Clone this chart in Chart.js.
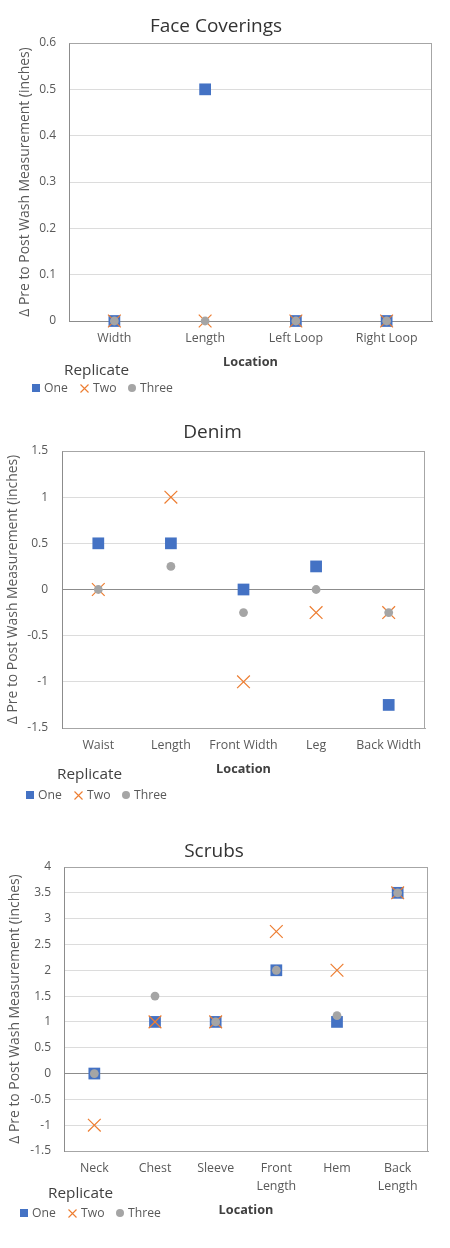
<!DOCTYPE html>
<html><head><meta charset="utf-8">
<script src="https://cdn.jsdelivr.net/npm/chart.js@4"></script>
<style>
html,body{margin:0;padding:0;background:#fff}
body{width:450px;height:1248px;position:relative;overflow:hidden;font-family:'Open Sans',sans-serif}
.wrap{position:absolute;left:0;width:450px}
.lt{position:absolute;font-size:15.3px;line-height:20px;color:#404040;white-space:nowrap}
.li{position:absolute;font-size:12.2px;line-height:16px;color:#595959;white-space:nowrap;display:flex;align-items:center}
.ic{width:8px;height:8px;margin-right:4px;flex:none}
</style>
</head><body>
<div class="wrap" id="w1" style="top:0;height:400px"><canvas id="c1"></canvas></div>
<div class="wrap" id="w2" style="top:405px;height:410px"><canvas id="c2"></canvas></div>
<div class="wrap" id="w3" style="top:825px;height:423px"><canvas id="c3"></canvas></div>
<script>
// ---- data ----
const seriesNames = ['One', 'Two', 'Three'];

const fcCategories = ['Width', 'Length', 'Left Loop', 'Right Loop'];
const fcOne   = [0, 0.5, 0, 0];
const fcTwo   = [0, 0, 0, 0];
const fcThree = [0, 0, 0, 0];
const fcYTicks = [0, 0.6, 0.1]; // min, max, step

const denimCategories = ['Waist', 'Length', 'Front Width', 'Leg', 'Back Width'];
const denimOne   = [0.5, 0.5, 0, 0.25, -1.25];
const denimTwo   = [0, 1, -1, -0.25, -0.25];
const denimThree = [0, 0.25, -0.25, 0, -0.25];
const denimYTicks = [-1.5, 1.5, 0.5];

const scrubsCategories = ['Neck', 'Chest', 'Sleeve', ['Front', 'Length'], 'Hem', ['Back', 'Length']];
const scrubsOne   = [0, 1, 1, 2, 1, 3.5];
const scrubsTwo   = [-1, 1, 1, 2.75, 2, 3.5];
const scrubsThree = [0, 1.5, 1, 2, 1.12, 3.5];
const scrubsYTicks = [-1.5, 4, 0.5];

const yAxisTitle = 'Δ Pre to Post Wash Measurement (inches)';
const xAxisTitle = 'Location';
const legendTitle = 'Replicate';

// ---- styles ----
const BLUE = '#4472C4', ORANGE = '#ED7D31', GRAY = '#A5A5A5';
const FONT = "'Open Sans', sans-serif";

const framePlugin = {
  id: 'frame',
  beforeDatasetsDraw(chart) {
    const {ctx, chartArea: a} = chart;
    ctx.save();
    ctx.strokeStyle = '#a6a6a6';
    ctx.lineWidth = 1;
    const l = Math.round(a.left) + 0.5, t = Math.round(a.top) + 0.5, r = Math.round(a.right) - 0.5;
    ctx.beginPath();
    ctx.moveTo(l, t); ctx.lineTo(r, t);
    ctx.moveTo(r, t); ctx.lineTo(r, Math.round(a.bottom));
    ctx.stroke();
    ctx.restore();
  }
};

function makeChart(id, cfg) {
  const datasets = [
    {label: seriesNames[0], data: cfg.one, pointStyle: 'rect', pointRadius: 8.3,
     pointBackgroundColor: BLUE, pointBorderColor: BLUE, pointBorderWidth: 0, order: 3},
    {label: seriesNames[1], data: cfg.two, pointStyle: 'crossRot', pointRadius: 9,
     pointBackgroundColor: ORANGE, pointBorderColor: ORANGE, pointBorderWidth: 1.2, order: 2},
    {label: seriesNames[2], data: cfg.three, pointStyle: 'circle', pointRadius: 4.4,
     pointBackgroundColor: GRAY, pointBorderColor: GRAY, pointBorderWidth: 0, order: 1}
  ].map(d => Object.assign(d, {showLine: false, clip: false, pointHoverRadius: d.pointRadius}));

  const [ymin, ymax, ystep] = cfg.yTicks;
  return new Chart(document.getElementById(id), {
    type: 'line',
    data: {labels: cfg.categories, datasets},
    plugins: [framePlugin],
    options: {
      responsive: true,
      maintainAspectRatio: false,
      animation: false,
      events: [],
      layout: {padding: {left: 0, top: 0, bottom: 0, right: cfg.padRight}},
      plugins: {
        legend: {display: false},
        tooltip: {enabled: false},
        title: {
          display: true, text: cfg.title, color: '#333333',
          font: {family: FONT, size: 19, weight: 'normal'},
          padding: {top: cfg.titlePad[0], bottom: cfg.titlePad[1]}
        }
      },
      scales: {
        x: {
          type: 'category', offset: true,
          grid: {color: 'rgba(0,0,0,0)', drawTicks: false},
          border: {display: true, color: cfg.xBorder, width: 1},
          ticks: {color: '#595959', font: {family: FONT, size: 12.4, lineHeight: 1.43},
                  padding: 9.1, maxRotation: 0, autoSkip: false},
          title: {display: true, text: xAxisTitle, color: '#404040',
                  font: {family: FONT, size: 12.7, weight: 'bold'},
                  padding: {top: 0, bottom: cfg.xTitlePadBottom}},
          afterFit: s => { s.height = cfg.xHeight; }
        },
        y: {
          min: ymin, max: ymax,
          grid: {drawTicks: false, lineWidth: 1,
                 color: c => (c.tick && c.tick.value === 0) ? '#8c8c8c' :
                             (c.tick && Math.abs(c.tick.value - ymax) < 1e-9) ? '#a6a6a6' : '#dcdcdc'},
          border: {display: true, color: '#8c8c8c', width: 1},
          ticks: {stepSize: ystep, color: '#595959', font: {family: FONT, size: 12}, padding: cfg.yTickPad,
                  callback: v => String(Number(Number(v).toFixed(2)))},
          title: {display: true, text: yAxisTitle, color: '#595959',
                  font: {family: FONT, size: 13.9, weight: 'normal'},
                  padding: {top: cfg.yTitlePadTop, bottom: 0}},
          afterFit: s => { s.width = cfg.yWidth; }
        }
      }
    }
  });
}

function makeLegend(titlePos, itemsPos) {
  const body = document.body;
  const t = document.createElement('div');
  t.className = 'lt'; t.textContent = legendTitle;
  t.style.left = titlePos[0] + 'px'; t.style.top = (titlePos[1] - 10) + 'px';
  body.appendChild(t);
  const offsets = [0, 48, 96];
  seriesNames.forEach((name, i) => {
    const it = document.createElement('div');
    it.className = 'li';
    it.style.left = (itemsPos[0] + offsets[i]) + 'px';
    it.style.top = (itemsPos[1] - 8) + 'px';
    let icon;
    if (i === 0) {
      icon = document.createElement('div'); icon.className = 'ic'; icon.style.background = BLUE;
    } else if (i === 1) {
      icon = document.createElementNS('http://www.w3.org/2000/svg', 'svg');
      icon.setAttribute('width', '9'); icon.setAttribute('height', '9');
      icon.setAttribute('class', 'ic'); icon.style.width = '9px'; icon.style.height = '9px';
      icon.innerHTML = '<path d="M0.5 0.5L8.5 8.5M8.5 0.5L0.5 8.5" stroke="' + ORANGE + '" stroke-width="1.1"/>';
    } else {
      icon = document.createElement('div'); icon.className = 'ic';
      icon.style.background = GRAY; icon.style.borderRadius = '50%';
    }
    it.appendChild(icon);
    const sp = document.createElement('span'); sp.textContent = name;
    it.appendChild(sp);
    body.appendChild(it);
  });
}

makeChart('c1', {title: 'Face Coverings', categories: fcCategories, one: fcOne, two: fcTwo, three: fcThree,
  yTicks: fcYTicks, padRight: 18, titlePad: [14.8, 5.4], xBorder: '#8c8c8c',
  xHeight: 79, xTitlePadBottom: 30.4, yWidth: 69, yTickPad: 13, yTitlePadTop: 16.6});
makeChart('c2', {title: 'Denim', categories: denimCategories, one: denimOne, two: denimTwo, three: denimThree,
  yTicks: denimYTicks, padRight: 25, titlePad: [16.6, 6.6], xBorder: '#a6a6a6',
  xHeight: 87, xTitlePadBottom: 38.4, yWidth: 62, yTickPad: 14, yTitlePadTop: 4.6});
makeChart('c3', {title: 'Scrubs', categories: scrubsCategories, one: scrubsOne, two: scrubsTwo, three: scrubsThree,
  yTicks: scrubsYTicks, padRight: 22, titlePad: [15.6, 3.6], xBorder: '#a6a6a6',
  xHeight: 97, xTitlePadBottom: 30.4, yWidth: 64, yTickPad: 13, yTitlePadTop: 6.6});

makeLegend([64, 369], [32, 388]);
makeLegend([57, 773], [26, 795]);
makeLegend([48, 1192], [20, 1213]);
</script>
</body></html>
